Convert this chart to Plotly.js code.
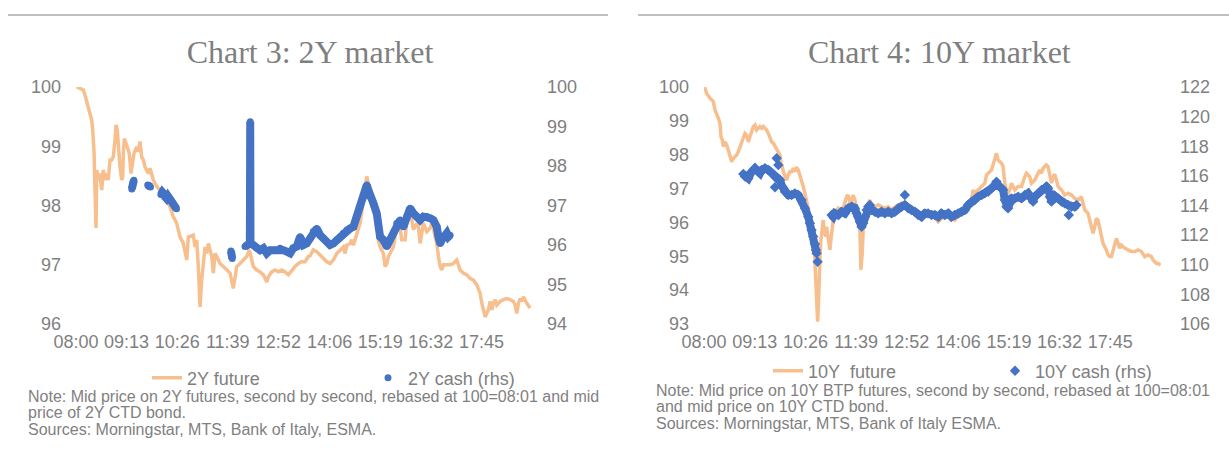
<!DOCTYPE html>
<html>
<head>
<meta charset="utf-8">
<script src="https://cdn.plot.ly/plotly-3.0.1.min.js"></script>
<style>html,body{margin:0;padding:0;background:#fff;}#chart{width:1229px;height:458px;}</style>
</head>
<body>
<div id="chart"></div>
<script>
// x values: minutes after 08:00
var timeLabels = ['08:00','09:13','10:26','11:39','12:52','14:06','15:19','16:32','17:45'];

// ---- Chart 3: 2Y market ----
var fut2T = [1,5.8,10.5,13.0,15.4,17.8,20.2,22.7,24.1,25.0,26.0,28.9,29.9,32.2,34.6,37.1,39.4,41.9,44.3,46.6,49.1,51.5,53.8,56.3,57.7,59.6,61.1,63.5,66.0,67.4,68.3,69.7,72.2,74.0,76.9,79.4,81.8,83.7,87.6,89.9,92.4,94.8,97.1,99.6,104.4,106.8,111.6,116.5,121.2,126.0,130.9,135.7,140.4,145.3,150.1,154.9,159.8,162.1,164.5,169.3,171.7,174.2,176.5,179.0,181.4,183.7,186.2,188.6,191.0,193.4,195.9,198.2,200.6,203.1,207.8,212.6,217.5,222.3,227.0,229.5,232.0,236.7,241.5,246.4,250.1,252.2,255.9,260.8,265.6,270.4,275.3,277.6,282.5,287.2,292.0,296.9,301.7,306.4,311.3,316.1,320.9,325.8,330.5,335.3,337.8,342.5,347.4,352.2,357.0,361.9,366.6,371.4,376.3,381.1,385.8,388.3,390.8,395.5,397.9,400.3,405.2,409.9,414.7,417.1,419.6,421.9,424.4,429.1,434.0,436.3,438.8,443.6,446.0,448.5,450.8,453.2,458.0,460.4,462.9,467.7,470.1,474.9,477.3,482.1,484.5,486.9,491.8,494.1,496.5,499.0,501.3,506.2,511.0,513.4,515.7,518.2,520.6,523.0,525.4,527.9,530.2,535.1,539.8,544.6,549.5,551.8,554.3,559.0,564.0,568.7,573.5,578.4,580.7,583.1,585.6,587.9,590.4,592.8,595.1,597.6,600.0,602.3,604.8,607.2,612.0,616.8,621.7,626.4,631.2,633.7,636.1,638.4,640.9,643.3,645.6,650.5,655.3];
var fut2V = [100.0,99.98,99.95,99.86,99.75,99.67,99.56,99.44,99.27,98.99,98.91,97.62,98.60,98.43,98.54,98.26,98.60,98.43,98.54,98.43,98.77,98.77,98.82,99.11,99.36,99.27,98.99,98.65,98.43,98.49,98.88,99.13,99.05,98.99,98.88,98.54,98.71,98.88,98.99,98.91,99.08,98.82,98.77,98.65,98.54,98.63,98.43,98.32,98.26,98.15,98.09,97.98,97.81,97.70,97.47,97.36,97.08,97.47,97.48,97.50,97.30,97.42,96.97,96.29,96.74,97.08,97.30,97.19,97.36,97.25,97.14,96.86,97.19,97.14,97.02,96.97,96.91,96.86,96.60,96.80,96.97,97.02,97.08,97.14,97.25,97.16,96.97,96.91,96.88,96.83,96.71,96.80,96.88,96.91,96.88,96.91,96.88,96.83,96.91,96.97,97.02,97.05,97.05,97.14,97.15,97.25,97.22,97.16,97.11,97.05,97.02,97.08,97.19,97.25,97.30,97.19,97.33,97.36,97.42,97.33,97.53,97.70,98.09,98.26,98.49,98.37,98.09,97.92,97.76,97.42,97.30,97.19,96.97,97.02,97.14,97.19,97.30,97.47,97.64,97.62,97.42,97.42,97.76,97.92,97.70,97.59,97.70,97.64,97.36,97.53,97.70,97.56,97.62,97.70,97.62,97.47,97.36,97.14,96.97,96.91,97.00,97.00,97.00,97.02,97.08,97.00,96.91,96.86,96.83,96.77,96.74,96.66,96.60,96.52,96.35,96.24,96.12,96.18,96.24,96.38,96.24,96.35,96.41,96.32,96.38,96.41,96.43,96.41,96.38,96.32,96.18,96.35,96.43,96.38,96.46,96.35,96.27];

var cash2T = [80.5,81.5,82.5,83.5,null,103.5,105.5,107.5,null,122.5,124.5,126.5,128.5,130.5,132.5,135,137,139,141,143,145,null,223.5,224.5,225.5,null,243.9,246.5,249.0,250.8,251.0,251.1,251.2,251.3,251.4,251.5,251.6,251.8,255.9,260.8,265.6,270.4,275.3,280.0,284.8,289.7,294.5,299.3,304.1,308.9,313.6,318.6,323.3,325.8,328.1,333.0,337.8,342.5,347.4,352.2,357.0,361.9,366.6,371.4,376.3,381.1,385.8,390.8,395.5,400.3,405.2,409.9,414.7,419.6,421.9,424.4,429.1,434.0,436.3,438.8,443.6,448.5,453.2,458.0,462.9,467.7,472.4,477.3,482.1,486.9,491.8,496.5,501.3,506.2,511.0,515.7,520.6,523.0,525.4,527.9,530.2,535.1,537.4,539.8];
var cash2V = [97.42,97.50,97.58,97.64,null,97.52,97.50,97.47,null,97.28,97.34,97.30,97.22,97.18,97.24,97.18,97.14,97.08,97.02,96.96,96.92,null,95.85,95.75,95.66,null,95.96,95.98,96.02,96.04,96.60,97.20,97.80,98.40,99.12,98.20,97.00,96.04,96.00,95.92,95.87,95.92,95.79,95.87,95.87,95.87,95.92,95.87,95.83,95.79,95.92,95.96,96.21,96.13,96.00,96.04,96.17,96.34,96.42,96.25,96.17,96.08,96.00,96.04,96.13,96.21,96.30,96.38,96.42,96.46,96.72,96.97,97.22,97.52,97.39,97.22,97.06,96.80,96.46,96.21,96.13,95.96,96.13,96.30,96.55,96.63,96.46,96.72,96.93,96.80,96.72,96.63,96.72,96.72,96.68,96.63,96.46,96.21,96.04,96.13,96.21,96.30,96.21,96.25];

// ---- Chart 4: 10Y market ----
var fut10T = [1,3.8,8.6,13.4,15.8,18.2,20.6,23.0,24.5,26.4,27.8,30.2,32.6,35.0,37.4,39.8,42.2,44.6,47.0,49.4,51.8,54.2,56.6,59.0,61.4,63.8,66.2,68.6,71.0,73.4,75.8,78.2,80.6,83.0,85.4,87.8,90.2,92.6,95.0,97.4,99.8,102.2,104.6,107.0,109.4,110.8,112.7,114.1,116.5,118.9,121.3,123.7,126.1,128.5,130.9,133.3,135.7,138.1,140.5,142.9,145.3,147.7,150.1,152.5,154.9,157.3,159.7,161.1,162.6,163.6,164.5,165.5,166.9,168.3,170.2,171.6,173.1,175.1,176.5,178.8,181.3,182.7,183.7,186.1,188.5,190.9,193.3,195.7,198.1,200.5,202.9,205.3,207.6,210.1,212.5,214.8,217.3,219.7,222.0,224.5,225.9,227.8,229.2,231.6,234.1,236.4,238.8,241.3,243.6,246.0,250.8,255.7,260.4,265.2,270.1,274.8,279.6,284.4,289.2,293.9,298.8,303.6,308.3,313.2,318.0,322.7,327.6,332.4,337.2,342.0,346.8,351.5,356.4,361.1,365.9,370.8,375.5,380.3,385.2,387.5,389.9,394.7,399.6,404.3,406.7,409.1,414.0,416.2,418.7,421.1,423.4,428.3,430.6,433.1,435.5,437.8,440.3,442.7,445.0,447.5,452.2,457.1,461.9,464.3,469.0,471.5,476.2,478.7,481.0,483.4,485.9,488.2,490.6,493.1,495.4,497.9,500.3,502.6,505.0,507.5,509.8,514.7,519.4,524.2,529.1,533.8,538.6,543.4,545.7,548.2,552.9,555.4,557.8,560.1,562.6,565.0,567.3,569.8,572.2,574.5,577.0,579.4,581.7,584.2,586.6,588.9,591.3,593.8,596.1,598.5,601.0,605.7,610.5,615.4,620.1,624.9,629.8,634.5,639.3,644.2,646.5,648.9,651.4,653.6,657.5];
var fut10V = [100.0,99.81,99.67,99.57,99.32,99.22,99.08,98.93,98.53,98.43,98.24,98.38,98.29,98.14,97.99,97.79,97.89,97.94,97.99,98.09,98.24,98.38,98.53,98.63,98.58,98.38,98.53,98.68,98.83,98.88,98.73,98.78,98.83,98.78,98.83,98.78,98.73,98.63,98.48,98.38,98.34,98.24,98.14,98.09,97.99,97.75,97.65,97.50,97.35,97.25,97.40,97.50,97.50,97.60,97.50,97.63,97.55,97.40,97.25,97.06,96.86,96.66,96.46,96.17,95.87,95.58,94.85,94.10,93.32,93.07,93.41,94.30,94.89,95.48,95.87,96.07,95.78,95.58,95.87,95.58,95.19,95.48,95.68,96.07,96.27,96.37,96.42,96.37,96.32,96.42,96.57,96.76,96.81,96.57,96.66,96.81,96.66,96.37,96.07,95.78,94.60,95.09,95.78,96.07,96.37,96.57,96.66,96.46,96.42,96.46,96.52,96.46,96.42,96.46,96.37,96.46,96.52,96.57,96.57,96.52,96.46,96.27,96.17,96.22,96.32,96.32,96.27,96.15,96.02,96.12,96.17,96.22,96.17,96.07,96.17,96.32,96.32,96.46,96.66,96.96,96.86,96.96,97.06,97.16,97.40,97.45,97.55,97.70,97.84,98.04,97.84,97.75,97.65,97.16,96.96,96.86,96.96,97.16,97.06,96.96,97.06,97.06,97.35,97.45,97.35,97.16,97.25,97.35,97.45,97.55,97.45,97.60,97.65,97.70,97.65,97.35,97.16,97.35,97.42,97.25,97.06,96.96,96.81,96.86,96.81,96.71,96.66,96.76,96.61,96.37,96.27,96.07,95.78,95.68,95.87,96.12,96.07,95.78,95.58,95.38,95.28,95.19,95.04,94.99,94.99,95.19,95.33,95.53,95.38,95.24,95.33,95.24,95.19,95.14,95.14,95.19,95.14,94.99,95.04,94.99,94.89,94.84,94.79,94.79,94.74];

var cash10T = [56.6,59.0,63.8,68.6,73.4,78.2,80.6,83.0,87.8,92.6,97.4,102.2,104.6,107.0,109.4,112.7,116.5,121.3,126.1,130.9,135.7,140.5,145.3,150.1,152.5,154.9,157.3,159.7,161.1,162.1,null,183.7,186.1,188.5,193.3,198.1,202.9,207.6,212.5,214.8,217.3,219.7,222.0,224.5,226.9,229.2,231.6,234.1,236.4,238.8,241.3,246.0,250.8,255.7,260.4,265.2,270.1,274.8,279.6,284.4,289.2,293.9,298.8,303.6,308.3,313.2,318.0,322.7,327.6,332.4,337.2,342.0,346.8,351.5,356.4,361.1,365.9,370.8,375.5,380.3,385.2,389.9,394.7,399.6,404.3,409.1,414.0,418.7,421.1,423.4,428.3,430.6,433.1,435.5,437.8,440.3,442.7,447.5,452.2,457.1,461.9,466.6,471.5,473.8,476.2,481.0,485.9,490.6,493.1,495.4,497.9,500.3,502.6,505.0,509.8,514.7,519.4,524.2,529.1,533.8,536.3,null,102.2,null,104.6,null,107.0,null,163.6,null,289.2,null,525.2];
var cash10V = [116.13,115.95,115.83,116.28,116.51,116.28,116.17,116.40,116.51,116.40,116.17,115.95,115.83,115.72,115.72,115.27,114.93,114.71,114.71,114.82,114.71,114.37,113.81,113.24,112.80,112.34,111.90,111.40,111.00,110.77,null,113.36,113.24,113.47,113.36,113.58,113.47,113.81,113.92,113.81,113.81,113.47,113.24,112.90,112.57,112.80,113.24,113.69,113.92,114.03,113.69,113.58,113.47,113.58,113.47,113.58,113.47,113.58,113.81,113.92,114.03,113.81,113.69,113.58,113.36,113.24,113.47,113.47,113.36,113.36,113.24,113.47,113.36,113.47,113.24,113.36,113.47,113.58,113.69,114.03,114.26,114.37,114.59,114.71,114.82,114.93,115.16,115.38,115.61,115.38,115.16,115.05,114.37,113.92,113.81,114.15,114.48,114.48,114.59,114.48,114.71,114.82,114.48,114.26,114.59,114.82,115.05,115.16,115.27,115.16,114.59,114.26,114.48,114.65,114.48,114.26,114.15,114.03,113.92,113.92,114.03,null,115.23,null,117.19,null,116.73,null,110.20,null,114.71,null,113.36];

var seriesNames = ['2Y future', '2Y cash (rhs)', '10Y\u00a0 future', '10Y cash (rhs)'];
var titles = ['Chart 3: 2Y market', 'Chart 4: 10Y market'];
var notes2 = ['Note: Mid price on 2Y futures, second by second, rebased at 100=08:01 and mid', 'price of 2Y CTD bond.', 'Sources: Morningstar, MTS, Bank of Italy, ESMA.'];
var notes10 = ['Note: Mid price on 10Y BTP futures, second by second, rebased at 100=08:01', 'and mid price on 10Y CTD bond.', 'Sources: Morningstar, MTS, Bank of Italy ESMA.'];

var W = 1229, H = 458;
var ORANGE = '#F8BF8E', BLUE = '#4472C4', GREY = '#7F7F7F';
var SANS = 'Liberation Sans, Arial, sans-serif';
var tickVals = timeLabels.map(function (s) { return (+s.slice(0, 2)) * 60 + (+s.slice(3)) - 480; });

function px(x) { return x / W; }
function py(y) { return 1 - y / H; }

var traces = [
  {x: fut2T, y: fut2V, xaxis: 'x', yaxis: 'y', type: 'scatter', mode: 'lines', name: seriesNames[0],
   line: {color: ORANGE, width: 3.5}, legend: 'legend'},
  {x: cash2T, y: cash2V, xaxis: 'x', yaxis: 'y2', type: 'scatter', mode: 'lines', showlegend: false,
   line: {color: BLUE, width: 8}, connectgaps: false, hoverinfo: 'skip'},
  {x: cash2T, y: cash2V, xaxis: 'x', yaxis: 'y2', type: 'scatter', mode: 'markers', name: seriesNames[1],
   marker: {color: BLUE, size: 7, symbol: 'circle'}, legend: 'legend2'},
  {x: fut10T, y: fut10V, xaxis: 'x2', yaxis: 'y3', type: 'scatter', mode: 'lines', name: seriesNames[2],
   line: {color: ORANGE, width: 3.5}, legend: 'legend3'},
  {x: cash10T, y: cash10V, xaxis: 'x2', yaxis: 'y4', type: 'scatter', mode: 'lines', showlegend: false,
   line: {color: BLUE, width: 8}, connectgaps: false, hoverinfo: 'skip'},
  {x: cash10T, y: cash10V, xaxis: 'x2', yaxis: 'y4', type: 'scatter', mode: 'markers', name: seriesNames[3],
   marker: {color: BLUE, size: 8, symbol: 'diamond'}, legend: 'legend4'}
];

var tickFont = {family: SANS, size: 18, color: GREY};
function xAxis(dom, anchor) {
  return {domain: dom, anchor: anchor, range: [0, 658], tickvals: tickVals, ticktext: timeLabels,
    showgrid: false, zeroline: false, showline: false, ticks: '', tickfont: tickFont, ticklabelstandoff: 5, fixedrange: true};
}
function yAxis(range, dtick, anchor, side, overlay, standoff) {
  var a = {domain: [py(324), py(87)], anchor: anchor, range: range, dtick: dtick, side: side,
    showgrid: false, zeroline: false, showline: false, ticks: '', tickfont: tickFont, ticklabelstandoff: standoff, fixedrange: true};
  if (overlay) a.overlaying = overlay;
  return a;
}

function legendAt(x, y) {
  return {x: px(x), y: py(y), xanchor: 'left', yanchor: 'middle', orientation: 'h',
    font: {family: SANS, size: 18, color: GREY}, bgcolor: 'rgba(0,0,0,0)', borderwidth: 0};
}

var annotations = [
  {text: titles[1], xref: 'paper', yref: 'paper', x: px(939), y: py(52), xanchor: 'center', yanchor: 'middle',
   showarrow: false, font: {family: 'Liberation Serif, Times New Roman, serif', size: 32, color: GREY}}
];
var noteYs2 = [396, 412.5, 429], noteYs10 = [390, 406.5, 423];
notes2.forEach(function (t, i) {
  annotations.push({text: t, xref: 'paper', yref: 'paper', x: px(26), y: py(noteYs2[i]), xanchor: 'left', yanchor: 'middle',
    showarrow: false, font: {family: SANS, size: 16, color: GREY}});
});
notes10.forEach(function (t, i) {
  annotations.push({text: t, xref: 'paper', yref: 'paper', x: px(654), y: py(noteYs10[i]), xanchor: 'left', yanchor: 'middle',
    showarrow: false, font: {family: SANS, size: 16, color: GREY}});
});

var layout = {
  width: W, height: H, margin: {l: 0, r: 0, t: 0, b: 0},
  paper_bgcolor: '#FFFFFF', plot_bgcolor: 'rgba(0,0,0,0)',
  title: {text: titles[0], x: px(310), xanchor: 'center', y: py(52), yanchor: 'middle', xref: 'paper', yref: 'container',
    font: {family: 'Liberation Serif, Times New Roman, serif', size: 32, color: GREY}},
  xaxis: xAxis([px(76), px(532)], 'y'),
  yaxis: yAxis([96, 100], 1, 'x', 'left', null, 14),
  yaxis2: yAxis([94, 100], 1, 'x', 'right', 'y', 14),
  xaxis2: xAxis([px(704), px(1161)], 'y3'),
  yaxis3: yAxis([93, 100], 1, 'x2', 'left', null, 14),
  yaxis4: yAxis([106, 122], 2, 'x2', 'right', 'y3', 18),
  legend: legendAt(147, 378),
  legend2: legendAt(368, 378),
  legend3: legendAt(768, 371),
  legend4: legendAt(995, 371),
  shapes: [
    {type: 'line', xref: 'paper', yref: 'paper', x0: px(8), x1: px(608), y0: py(15), y1: py(15), line: {color: '#BFBFBF', width: 2}},
    {type: 'line', xref: 'paper', yref: 'paper', x0: px(638), x1: px(1229), y0: py(15), y1: py(15), line: {color: '#BFBFBF', width: 2}}
  ],
  annotations: annotations,
  showlegend: true
};

Plotly.newPlot('chart', traces, layout, {displayModeBar: false, staticPlot: true});
</script>
</body>
</html>
